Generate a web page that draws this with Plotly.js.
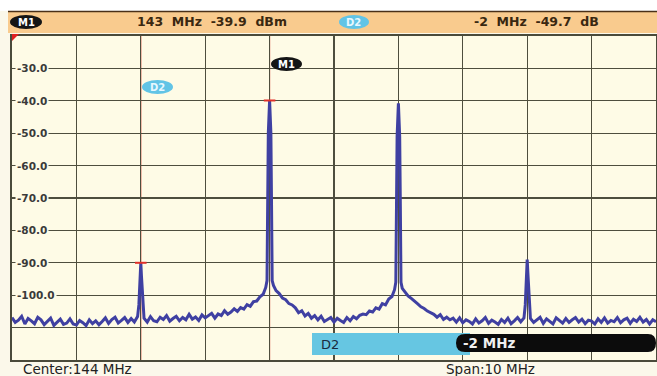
<!DOCTYPE html>
<html><head><meta charset="utf-8">
<script src="https://cdn.plot.ly/plotly-3.0.1.min.js"></script>
<style>html,body{margin:0;padding:0;background:#fbf8ea;}#chart{width:657px;height:376px;}</style>
</head><body><div id="chart"></div>
<script>
// ---- data (frequency in MHz, level in dBm) ----
const freqMHz = [
139.00,139.05,139.10,139.15,139.20,139.25,139.30,139.35,139.40,139.45,139.50,139.55,139.60,139.65,139.70,139.75,139.80,139.85,139.90,139.95,
140.00,140.05,140.10,140.15,140.20,140.25,140.30,140.35,140.40,140.45,140.50,140.55,140.60,140.65,140.70,140.75,140.80,140.85,140.90,140.95,
140.97,140.99,141.00,141.01,141.03,
141.05,141.10,141.15,141.20,141.25,141.30,141.35,141.40,141.45,141.50,141.55,141.60,141.65,141.70,141.75,141.80,141.85,141.90,141.95,
142.00,142.05,142.10,142.15,142.20,142.25,142.30,142.35,142.40,142.45,142.50,142.55,142.60,142.65,142.70,142.75,142.80,142.85,142.90,142.94,
142.96,142.97,142.98,143.00,143.02,143.03,143.04,
143.06,143.10,143.15,143.20,143.25,143.30,143.35,143.40,143.45,143.50,143.55,143.60,143.65,143.70,143.75,143.80,143.85,143.90,143.95,
144.00,144.05,144.10,144.15,144.20,144.25,144.30,144.35,144.40,144.45,144.50,144.55,144.60,144.65,144.70,144.75,144.80,144.85,144.90,144.94,
144.96,144.97,144.98,145.00,145.02,145.03,145.04,
145.06,145.10,145.15,145.20,145.25,145.30,145.35,145.40,145.45,145.50,145.55,145.60,145.65,145.70,145.75,145.80,145.85,145.90,145.95,
146.00,146.05,146.10,146.15,146.20,146.25,146.30,146.35,146.40,146.45,146.50,146.55,146.60,146.65,146.70,146.75,146.80,146.85,146.90,146.95,
146.97,146.99,147.00,147.01,147.03,
147.05,147.10,147.15,147.20,147.25,147.30,147.35,147.40,147.45,147.50,147.55,147.60,147.65,147.70,147.75,147.80,147.85,147.90,147.95,
148.00,148.05,148.10,148.15,148.20,148.25,148.30,148.35,148.40,148.45,148.50,148.55,148.60,148.65,148.70,148.75,148.80,148.85,148.90,148.95,149.00
];
const levelDBm = [
-106.9,-108.4,-107.7,-106.5,-108.9,-107.2,-107.9,-108.8,-106.8,-107.6,-109.1,-108.0,-107.1,-109.3,-108.2,-107.4,-109.0,-108.6,-107.3,-108.9,
-109.2,-107.8,-108.5,-109.4,-107.6,-108.8,-107.9,-109.1,-108.1,-107.0,-108.7,-107.5,-106.8,-108.6,-107.8,-106.9,-108.4,-107.2,-108.3,-106.6,
-103.0,-94.0,-90.0,-94.0,-103.0,
-107.1,-108.3,-106.6,-107.9,-108.2,-106.8,-107.5,-106.3,-108.0,-107.2,-106.5,-107.9,-106.9,-107.6,-105.9,-107.4,-106.7,-107.8,-106.1,
-107.0,-106.4,-105.6,-107.1,-105.8,-106.3,-104.8,-105.9,-105.2,-104.2,-105.0,-103.8,-104.3,-102.9,-103.4,-102.0,-101.8,-100.5,-99.7,-97.6,
-95.5,-72.0,-50.0,-39.9,-50.0,-72.0,-95.5,
-97.0,-98.6,-99.5,-100.9,-101.4,-102.6,-103.0,-103.9,-105.4,-104.8,-106.4,-105.6,-107.1,-106.3,-107.6,-106.5,-108.1,-107.4,-106.9,
-108.3,-107.1,-107.8,-108.4,-106.9,-107.9,-106.6,-107.3,-106.2,-105.8,-106.0,-104.9,-105.2,-103.9,-104.3,-102.6,-103.0,-101.2,-100.4,-98.3,
-96.0,-72.0,-51.0,-40.8,-51.0,-72.0,-96.0,
-97.9,-98.9,-100.2,-101.0,-102.0,-102.7,-103.6,-104.1,-104.9,-105.4,-105.9,-106.8,-106.0,-107.5,-106.8,-107.6,-107.1,-108.3,-107.0,
-108.5,-107.6,-108.1,-108.9,-107.3,-108.6,-107.9,-106.9,-108.7,-107.7,-108.3,-109.0,-107.5,-108.4,-107.1,-108.8,-107.9,-106.9,-108.2,-107.0,
-103.0,-93.0,-89.0,-93.0,-103.0,
-107.2,-108.4,-107.6,-106.8,-108.7,-107.3,-108.1,-108.9,-107.0,-107.8,-108.6,-107.2,-108.4,-107.6,-106.9,-108.3,-107.4,-108.8,-107.7,
-108.0,-108.9,-107.3,-108.4,-107.0,-108.6,-107.8,-108.2,-106.9,-108.5,-107.6,-107.1,-108.7,-107.4,-108.1,-106.8,-108.3,-107.5,-108.9,-107.6,-108.2
];
const yTickValues = [-30, -40, -50, -60, -70, -80, -90, -100];
const yTickLabels = ["-30.0", "-40.0", "-50.0", "-60.0", "-70.0", "-80.0", "-90.0", "-100.0"];
const markerFreqs = [143, 141];          // M1, D2 marker positions (MHz)
const markerLevels = [-39.9, -90.0];     // marker levels (dBm)
const headerM1 = "143  MHz  -39.9  dBm";
const headerD2 = "-2  MHz  -49.7  dB";
const centerLabel = "Center:144 MHz";
const spanLabel = "Span:10 MHz";
const deltaLabel = "-2 MHz";

// ---- layout helpers (pixel -> paper) ----
const W = 657, H = 376, ML = 12, MR = 1, MT = 36, MB = 16;
const PW = W - ML - MR, PH = H - MT - MB;
const px = x => (x - ML) / PW;
const py = y => (H - MB - y) / PH;
const nb = s => s.replace(/ /g, "&nbsp;");

const cream = "#fefbe6";
const FONT = "DejaVu Sans, Verdana, sans-serif";
const shapes = [];
const annotations = [];

// white strip at very top and orange header
shapes.push({type:"rect", xref:"paper", yref:"paper", x0:px(0), x1:px(657), y0:py(11), y1:py(0), fillcolor:"#ffffff", line:{width:0}, layer:"above"});
shapes.push({type:"rect", xref:"paper", yref:"paper", x0:px(8), x1:px(657), y0:py(33), y1:py(11), fillcolor:"#f9cb8e", line:{width:0}, layer:"above"});
shapes.push({type:"line", xref:"paper", yref:"paper", x0:px(8), x1:px(657), y0:py(11.5), y1:py(11.5), line:{color:"#4a3018", width:1.5}, layer:"above"});

// marker vertical lines
markerFreqs.forEach(f => {
  shapes.push({type:"line", xref:"x", yref:"paper", x0:f, x1:f, y0:0, y1:1, line:{color:"#d9604c", width:1.2}, layer:"below"});
});
// marker tick at marker level
markerFreqs.forEach((f, i) => {
  shapes.push({type:"line", xref:"x", yref:"y", x0:f-0.09, x1:f+0.09, y0:markerLevels[i], y1:markerLevels[i], line:{color:"#e0302a", width:2}, layer:"above"});
});
// red reference triangle top-left
shapes.push({type:"path", xref:"paper", yref:"paper",
  path:`M${px(12)},${py(34)} L${px(19)},${py(34)} L${px(12)},${py(41)} Z`, fillcolor:"#e02020", line:{width:0}, layer:"above"});

// ovals
function oval(x0, x1, y0, y1, color, txt, tcolor) {
  shapes.push({type:"circle", xref:"paper", yref:"paper", x0:px(x0), x1:px(x1), y0:py(y1), y1:py(y0), fillcolor:color, line:{width:0}, layer:"above"});
  annotations.push({xref:"paper", yref:"paper", x:px((x0+x1)/2), y:py((y0+y1)/2), text:"<b>"+txt+"</b>", showarrow:false,
    font:{family:FONT, size:10, color:tcolor}, xanchor:"center", yanchor:"middle"});
}
oval(10, 42, 15, 29, "#151515", "M1", "#ffffff");
oval(339, 369, 15, 29, "#62c4e6", "D2", "#e8f8ff");
oval(271, 302, 57, 71, "#151515", "M1", "#ffffff");
oval(142, 173, 80, 94, "#62c4e6", "D2", "#e8f8ff");

// header texts
annotations.push({xref:"paper", yref:"paper", x:px(212), y:py(21), text:"<b>"+nb(headerM1)+"</b>", showarrow:false,
  font:{family:FONT, size:12.5, color:"#3a2810"}, xanchor:"center", yanchor:"middle"});
annotations.push({xref:"paper", yref:"paper", x:px(536), y:py(21), text:"<b>"+nb(headerD2)+"</b>", showarrow:false,
  font:{family:FONT, size:12.5, color:"#3a2810"}, xanchor:"center", yanchor:"middle"});

// bottom delta bar
shapes.push({type:"rect", xref:"paper", yref:"paper", x0:px(312), x1:px(470), y0:py(355), y1:py(333), fillcolor:"#66c6e2", line:{width:0}, layer:"above"});
shapes.push({type:"path", xref:"paper", yref:"paper",
  path:`M${px(465)},${py(334)} L${px(648)},${py(334)} Q${px(656)},${py(334)} ${px(656)},${py(343)} Q${px(656)},${py(352)} ${px(648)},${py(352)} L${px(465)},${py(352)} Q${px(456)},${py(352)} ${px(456)},${py(343)} Q${px(456)},${py(334)} ${px(465)},${py(334)} Z`,
  fillcolor:"#0c0c0c", line:{width:0}, layer:"above"});
annotations.push({xref:"paper", yref:"paper", x:px(319), y:py(344), text:"D2", showarrow:false,
  font:{family:FONT, size:13, color:"#1a2a40"}, xanchor:"left", yanchor:"middle"});
annotations.push({xref:"paper", yref:"paper", x:px(461), y:py(343), text:"<b>"+deltaLabel+"</b>", showarrow:false,
  font:{family:FONT, size:13.5, color:"#f0f0f0"}, xanchor:"left", yanchor:"middle"});

// footer texts
annotations.push({xref:"paper", yref:"paper", x:px(21), y:py(368.5), text:centerLabel, showarrow:false,
  font:{family:FONT, size:13.5, color:"#222222"}, xanchor:"left", yanchor:"middle"});
annotations.push({xref:"paper", yref:"paper", x:px(444), y:py(368.5), text:spanLabel, showarrow:false,
  font:{family:FONT, size:13.5, color:"#222222"}, xanchor:"left", yanchor:"middle"});

// y tick labels inside the plot
yTickValues.forEach((v, i) => {
  annotations.push({xref:"paper", yref:"y", x:px(15), y:v, text:"<b>"+yTickLabels[i]+"</b>", showarrow:false,
    font:{family:FONT, size:10.5, color:"#3a3a3a"}, xanchor:"left", yanchor:"middle",
    bgcolor:cream, borderpad:1});
});

const trace = {
  x: freqMHz, y: levelDBm, type:"scatter", mode:"lines",
  line:{color:"#3f40a2", width:3}, hoverinfo:"skip"
};

const layout = {
  width: W, height: H,
  margin:{l:ML, r:MR, t:MT, b:MB, pad:0},
  paper_bgcolor:"#fbf8ea", plot_bgcolor:cream,
  showlegend:false,
  xaxis:{range:[139,149], dtick:1, tick0:139, showticklabels:false, ticks:"", showgrid:true, gridcolor:"#4e4e3e", gridwidth:1.3,
    zeroline:false, showline:true, mirror:true, linecolor:"#4a4a3a", linewidth:1.6, fixedrange:true},
  yaxis:{range:[-120,-20], dtick:10, tick0:-120, showticklabels:false, ticks:"", showgrid:true, gridcolor:"#4e4e3e", gridwidth:1.3,
    zeroline:false, showline:true, mirror:true, linecolor:"#4a4a3a", linewidth:1.6, fixedrange:true},
  shapes: shapes,
  annotations: annotations
};

Plotly.newPlot("chart", [trace], layout, {staticPlot:true, displayModeBar:false});
</script>
</body></html>
